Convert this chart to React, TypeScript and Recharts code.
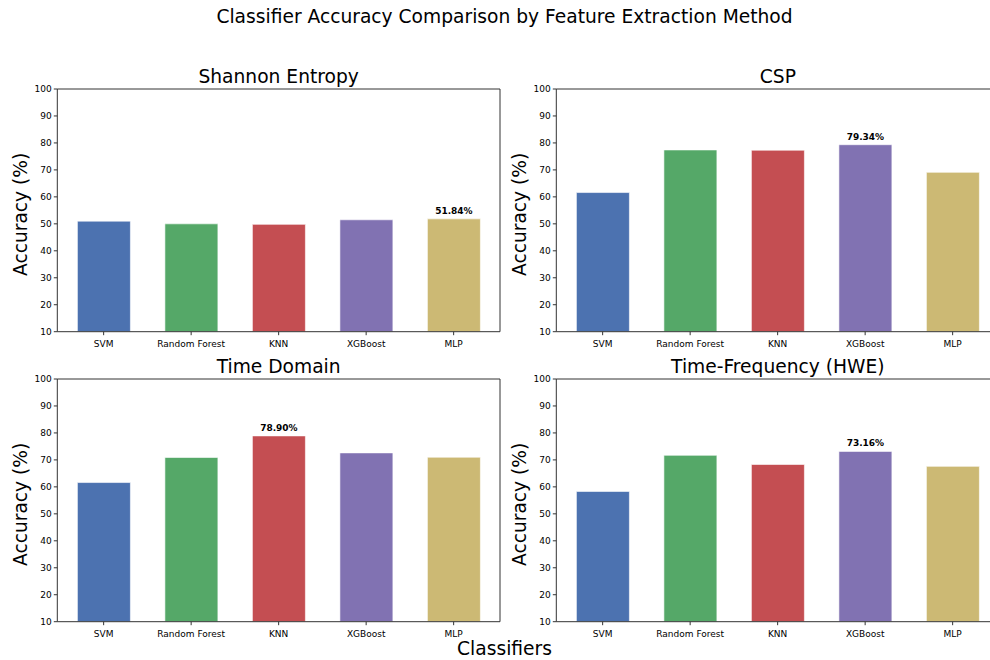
import React from "react";
import {
  BarChart,
  Bar,
  XAxis,
  YAxis,
  Cell,
  LabelList,
} from "recharts";

const classifiers = ["SVM", "Random Forest", "KNN", "XGBoost", "MLP"];
const barColors = ["#4C72B0", "#55A868", "#C44E52", "#8172B2", "#CCB974"];
const yTicks = [10, 20, 30, 40, 50, 60, 70, 80, 90, 100];

const shannonEntropy = [51.0, 50.0, 49.8, 51.5, 51.84];
const cspScores = [61.6, 77.4, 77.3, 79.34, 69.1];
const timeDomain = [61.6, 70.9, 78.9, 72.6, 71.0];
const timeFrequency = [58.3, 71.7, 68.3, 73.16, 67.6];

const FONT = "'DejaVu Sans', sans-serif";
const SPINE = "#333";
const BIG = 18.67;

const panels = [
  { title: "Shannon Entropy", values: shannonEntropy, left: 0, top: 60 },
  { title: "CSP", values: cspScores, left: 499.2, top: 60 },
  { title: "Time Domain", values: timeDomain, left: 0, top: 350 },
  { title: "Time-Frequency (HWE)", values: timeFrequency, left: 499.2, top: 350 },
];

function Panel({ title, values, left, top }: { title: string; values: number[]; left: number; top: number }) {
  const data = classifiers.map((name, i) => ({ name, accuracy: values[i] }));
  const best = Math.max(...values);

  // only the best classifier gets a value label
  const renderBest = (props: any) => {
    const { x, y, width, value } = props;
    if (value !== best) return null;
    return (
      <text
        x={x + width / 2}
        y={y - 5}
        textAnchor="middle"
        fontSize={9}
        fontWeight="bold"
        fontFamily={FONT}
        fill="#000"
      >
        {`${value.toFixed(2)}%`}
      </text>
    );
  };

  return (
    <div style={{ position: "absolute", left, top, width: 510, height: 300 }}>
      <div
        style={{
          position: "absolute",
          left: 57.3,
          width: 442.7,
          top: 5,
          lineHeight: "24px",
          fontSize: BIG,
          textAlign: "center",
          fontFamily: FONT,
          color: "#000",
        }}
      >
        {title}
      </div>
      <BarChart
        width={510}
        height={300}
        data={data}
        margin={{ top: 28, right: 9, left: 0, bottom: 8.3 }}
        barCategoryGap="20%"
      >
        <XAxis
          dataKey="name"
          height={20}
          padding={{ left: 2.6, right: 2.6 }}
          tick={{ fontSize: 9, fill: "#000", fontFamily: FONT }}
          tickSize={3.5}
          tickMargin={5}
          stroke={SPINE}
          interval={0}
        />
        {/* top and right spines of the frame */}
        <XAxis xAxisId="top" dataKey="name" orientation="top" height={1} tick={false} tickLine={false} stroke={SPINE} />
        <YAxis
          domain={[10, 100]}
          ticks={yTicks}
          width={57.3}
          tick={{ fontSize: 9, fill: "#000", fontFamily: FONT }}
          tickSize={3.5}
          tickMargin={2}
          stroke={SPINE}
          allowDataOverflow
          label={{
            value: "Accuracy (%)",
            angle: -90,
            position: "center",
            dx: -8.6,
            dy: 4,
            fontSize: BIG,
            fill: "#000",
            fontFamily: FONT,
          }}
        />
        <YAxis yAxisId="right" orientation="right" domain={[10, 100]} width={1} tick={false} tickLine={false} stroke={SPINE} />
        <Bar dataKey="accuracy" isAnimationActive={false} stroke="#fff" strokeWidth={0.6}>
          {data.map((d, i) => (
            <Cell key={d.name} fill={barColors[i]} />
          ))}
          <LabelList dataKey="accuracy" content={renderBest} />
        </Bar>
      </BarChart>
    </div>
  );
}

export default function App() {
  return (
    <div
      style={{
        position: "absolute",
        left: 0,
        top: 0,
        width: 990,
        height: 660,
        overflow: "hidden",
        background: "#fff",
        fontFamily: FONT,
      }}
    >
      <div
        style={{
          position: "absolute",
          left: 0,
          width: 1009,
          top: 5,
          lineHeight: "24px",
          fontSize: BIG,
          textAlign: "center",
          color: "#000",
        }}
      >
        Classifier Accuracy Comparison by Feature Extraction Method
      </div>
      {panels.map((p) => (
        <Panel key={p.title} {...p} />
      ))}
      <div
        style={{
          position: "absolute",
          left: 0,
          width: 1009,
          top: 637,
          lineHeight: "24px",
          fontSize: BIG,
          textAlign: "center",
          color: "#000",
        }}
      >
        Classifiers
      </div>
    </div>
  );
}
